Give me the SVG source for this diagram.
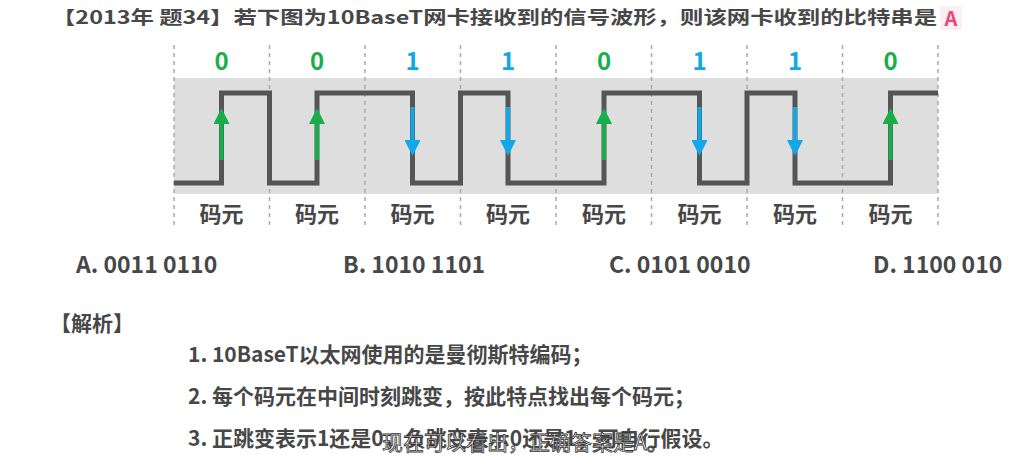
<svg xmlns="http://www.w3.org/2000/svg" width="1014" height="455" viewBox="0 0 1014 455">
<style>
text{font-family:"Noto Sans CJK SC","Noto Sans",sans-serif;font-weight:bold;fill:#474747}
.t{font-size:18px}
.a{font-size:21px}
.bit{font-size:24px;text-anchor:middle}
.g{fill:#1aad4b}.b{fill:#12a7e6}
.cell{font-size:22px;text-anchor:middle}
.opt{font-size:23px}
.grid{stroke:#aaa;stroke-width:1.5;stroke-dasharray:4,4}
.up{stroke:#1aad4b;stroke-width:4}
.dn{stroke:#12a7e6;stroke-width:4}
</style>
<defs>
<marker id="ag" markerWidth="4" markerHeight="4" refX="2" refY="2" orient="auto" markerUnits="strokeWidth"><path d="M0,0L4,2L0,4z" fill="#1aad4b"/></marker>
<marker id="ab" markerWidth="4" markerHeight="4" refX="2" refY="2" orient="auto" markerUnits="strokeWidth"><path d="M0,0L4,2L0,4z" fill="#12a7e6"/></marker>
</defs>
<rect width="1014" height="455" fill="#fff"/>
<text class="t" x="52" y="24" textLength="885" lengthAdjust="spacingAndGlyphs">【2013年 题34】若下图为10BaseT网卡接收到的信号波形，则该网卡收到的比特串是</text>
<rect x="940" y="6" width="22" height="24" fill="#fdeef3"/>
<text x="951" y="26" style="font-size:20px;text-anchor:middle;fill:#e6487a">A</text>
<g id="band"><rect x="174" y="78" width="764" height="116" fill="#dedede"/></g>
<g id="grid">
<line class="grid" x1="174" y1="45" x2="174" y2="228"/><line class="grid" x1="269.5" y1="45" x2="269.5" y2="228"/>
<line class="grid" x1="365" y1="45" x2="365" y2="228"/><line class="grid" x1="460.5" y1="45" x2="460.5" y2="228"/>
<line class="grid" x1="556" y1="45" x2="556" y2="228"/><line class="grid" x1="651.5" y1="45" x2="651.5" y2="228"/>
<line class="grid" x1="747" y1="45" x2="747" y2="228"/><line class="grid" x1="842.5" y1="45" x2="842.5" y2="228"/>
<line class="grid" x1="938" y1="45" x2="938" y2="228"/>
</g>
<g id="wave"><path d="M174,183H221.5V93H269.5V183H317V93H412.5V183H460.5V93H508V183H604V93H699.5V183H747V93H795V183H890.5V93H938" fill="none" stroke="#555" stroke-width="5"/></g>
<g id="connectors">
<line class="up" x1="221.5" y1="160" x2="221.5" y2="116" marker-end="url(#ag)"/>
<line class="up" x1="317" y1="160" x2="317" y2="116" marker-end="url(#ag)"/>
<line class="dn" x1="412.5" y1="107" x2="412.5" y2="148" marker-end="url(#ab)"/>
<line class="dn" x1="508" y1="107" x2="508" y2="148" marker-end="url(#ab)"/>
<line class="up" x1="604" y1="160" x2="604" y2="116" marker-end="url(#ag)"/>
<line class="dn" x1="699.5" y1="107" x2="699.5" y2="148" marker-end="url(#ab)"/>
<line class="dn" x1="795" y1="107" x2="795" y2="148" marker-end="url(#ab)"/>
<line class="up" x1="890.5" y1="160" x2="890.5" y2="116" marker-end="url(#ag)"/>
</g>
<g id="bits">
<text class="bit g" x="221.5" y="70">0</text><text class="bit g" x="317" y="70">0</text>
<text class="bit b" x="412.5" y="70">1</text><text class="bit b" x="508" y="70">1</text>
<text class="bit g" x="604" y="70">0</text><text class="bit b" x="699.5" y="70">1</text>
<text class="bit b" x="795" y="70">1</text><text class="bit g" x="890.5" y="70">0</text>
</g>
<g id="cells">
<text class="cell" x="221.5" y="222">码元</text><text class="cell" x="317" y="222">码元</text>
<text class="cell" x="412.5" y="222">码元</text><text class="cell" x="508" y="222">码元</text>
<text class="cell" x="604" y="222">码元</text><text class="cell" x="699.5" y="222">码元</text>
<text class="cell" x="795" y="222">码元</text><text class="cell" x="890.5" y="222">码元</text>
</g>
<g id="options">
<text class="opt" x="76" y="273">A. 0011 0110</text>
<text class="opt" x="343" y="273">B. 1010 1101</text>
<text class="opt" x="609" y="273">C. 0101 0010</text>
<text class="opt" x="873" y="273">D. 1100 010</text>
</g>
<text class="a" x="50" y="331">【解析】</text>
<text class="a" x="188" y="362">1. 10BaseT以太网使用的是曼彻斯特编码；</text>
<text class="a" x="188" y="404">2. 每个码元在中间时刻跳变，按此特点找出每个码元；</text>
<text class="a" x="188" y="446">3. 正跳变表示1还是0，负跳变表示0还是1，可自行假设。</text>
<text x="382" y="450" style="font-size:21px;font-weight:normal;fill:#fff;stroke:#333;stroke-width:0.8">现在可以看出，正确答案是A。</text>
</svg>
